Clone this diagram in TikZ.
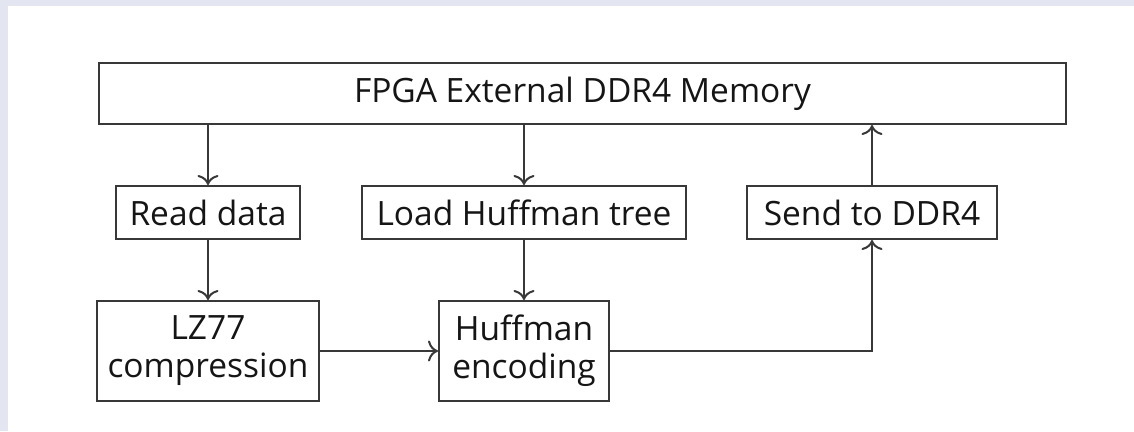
\documentclass[tikz,border=0pt]{standalone}
\usepackage{fontspec}
\setmainfont{Open Sans}
\usetikzlibrary{arrows.meta}
\definecolor{bandcol}{HTML}{E3E5F0}
\definecolor{linecol}{HTML}{383838}
\definecolor{txtcol}{HTML}{151515}
\begin{document}
\begin{tikzpicture}[x=1pt,y=-1pt,
  blk/.style={draw=linecol, line width=2pt, rectangle, inner sep=0pt,
    align=center, text=txtcol, font=\fontsize{33.5}{38}\selectfont},
  flow/.style={draw=linecol, line width=2pt, -{To[length=10pt,width=21pt]}}]
  % frame band and white canvas
  \fill[bandcol] (0,0) rectangle (1134,431);
  \fill[white] (8,6) rectangle (1134,431);
  \useasboundingbox (0,0) rectangle (1134,431);

  % blocks
  \node[blk, minimum width=967pt, minimum height=61pt] (mem) at (582.5,93.5) {FPGA External DDR4 Memory};
  \node[blk, minimum width=184pt, minimum height=53pt] (read) at (208,212.5) {Read data};
  \node[blk, minimum width=324pt, minimum height=53pt] (load) at (524,212.5) {Load Huffman tree};
  \node[blk, minimum width=250pt, minimum height=53pt] (send) at (872,212.5) {Send to DDR4};
  \node[blk, minimum width=222pt, minimum height=100pt] (lz) at (208,351) {LZ77\\compression};
  \node[blk, minimum width=170pt, minimum height=100pt] (huff) at (524,351) {Huffman\\encoding};

  % connectors
  \draw[flow] (read.north |- mem.south) -- (read.north);
  \draw[flow] (load.north |- mem.south) -- (load.north);
  \draw[flow] (send.north) -- (send.north |- mem.south);
  \draw[flow] (read.south) -- (lz.north);
  \draw[flow] (load.south) -- (huff.north);
  \draw[flow] (lz.east) -- (huff.west);
  \draw[flow] (huff.east) -| (send.south);
\end{tikzpicture}
\end{document}
